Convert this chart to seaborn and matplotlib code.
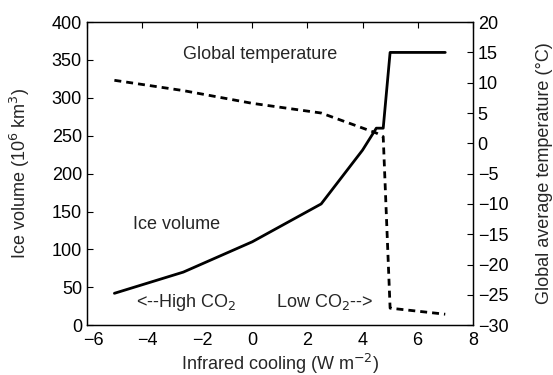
import pandas as pd
import matplotlib.pyplot as plt
import matplotlib.transforms as mtransforms
import seaborn as sns

# Datos
cooling_ice = [-5, -2.5, 0, 2.5, 4, 4.5, 4.75, 5, 7]
ice_volume = [42, 70, 110, 160, 231, 260, 260, 360, 360]

cooling_temp = [-5, -2.5, 0, 2.5, 4.5, 4.75, 5, 7]
global_temp = [10.4, 8.7, 6.6, 5.0, 1.7, 1.1, -27.2, -28.2]

x_ticks = [-6, -4, -2, 0, 2, 4, 6, 8]
temp_ticks = [-30, -25, -20, -15, -10, -5, 0, 5, 10, 15, 20]

ice_df = pd.DataFrame({"cooling": cooling_ice, "ice": ice_volume})
temp_df = pd.DataFrame({"cooling": cooling_temp, "temp": global_temp})

sns.set_style("white")
plt.rcParams["font.family"] = ["Liberation Sans", "DejaVu Sans"]
plt.rcParams["font.size"] = 13
plt.rcParams["xtick.direction"] = "in"
plt.rcParams["ytick.direction"] = "in"

fig = plt.figure(figsize=(5.53, 3.75), dpi=100)
ax = fig.add_axes([0.157, 0.133, 0.698, 0.808])

sns.lineplot(data=ice_df, x="cooling", y="ice", ax=ax, color="black",
             linewidth=2, sort=False, estimator=None)
ax.set_xlim(-6, 8)
ax.set_ylim(0, 400)
ax.set_xticks(x_ticks)
ax.set_xticklabels([str(v).replace("-", "\u2212") for v in x_ticks])
ax.set_yticks(range(0, 401, 50))
ax.set_xlabel("Infrared cooling (W m$^{-2}$)", labelpad=2)
ax.set_ylabel("Ice volume (10$^{6}$ km$^{3}$)", labelpad=14)
ax.tick_params(top=True, length=4, width=0.8, colors="black")
ax.tick_params(axis="x", pad=5)

# las etiquetas negativas van un poco a la derecha, como en el original
for v, lab in zip(x_ticks, ax.get_xticklabels()):
    if v < 0:
        dx = 7 if v == -6 else 5
        lab.set_transform(lab.get_transform() +
                          mtransforms.ScaledTranslation(dx / 100, 0, fig.dpi_scale_trans))

ax2 = ax.twinx()
sns.lineplot(data=temp_df, x="cooling", y="temp", ax=ax2, color="black",
             linewidth=2, sort=False, estimator=None, dashes=False)
ax2.lines[0].set_dashes((2.5, 1.8))
ax2.set_ylim(-30, 20)
ax2.set_yticks(temp_ticks)
ax2.set_yticklabels([str(v).replace("-", "\u2212") for v in temp_ticks])
ax2.set_ylabel("Global average temperature (\u00b0C)", labelpad=20)
ax2.tick_params(length=4, width=0.8, colors="black")

for a in (ax, ax2):
    for s in a.spines.values():
        s.set_color("black")
        s.set_linewidth(0.9)

ax.text(-2.5, 357, "Global temperature", va="center", ha="left")
ax.text(-4.33, 133, "Ice volume", va="center", ha="left")
ax.text(-4.2, 30, "<--High CO$_2$", va="center", ha="left")
ax.text(0.86, 30, "Low CO$_2$-->", va="center", ha="left")

fig.savefig("out.png", dpi=100)
